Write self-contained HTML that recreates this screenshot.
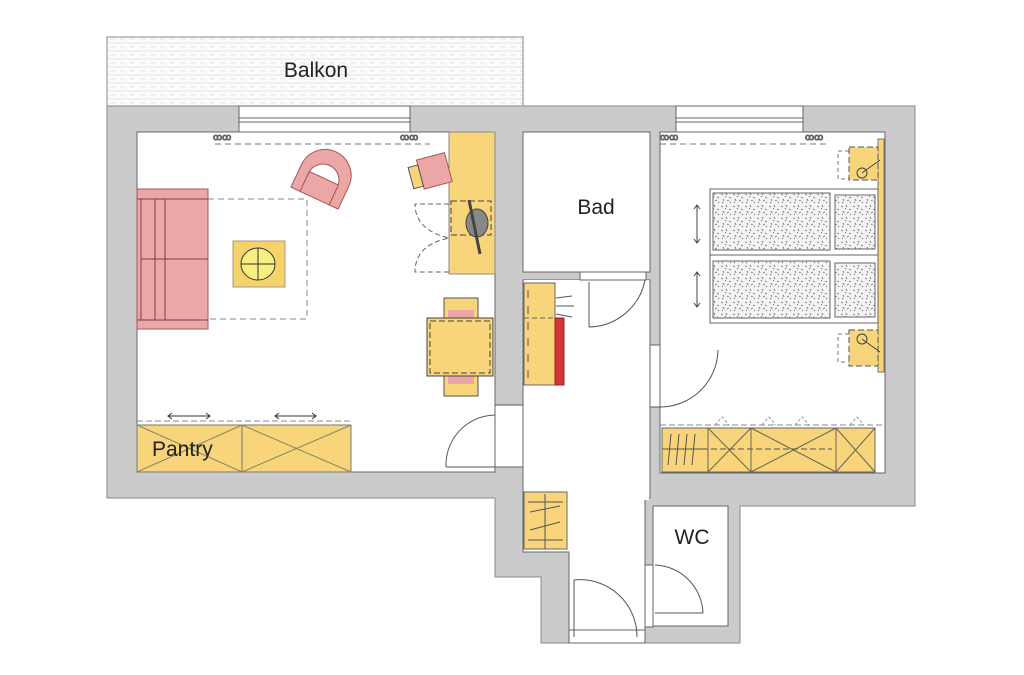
<!DOCTYPE html>
<html><head><meta charset="utf-8"><style>
html,body{margin:0;padding:0;background:#fff;}
svg{display:block;font-family:"Liberation Sans",sans-serif;}
</style></head><body>
<svg width="1024" height="675" viewBox="0 0 1024 675" xmlns="http://www.w3.org/2000/svg">
<defs>
<pattern id="hatch" width="10" height="8" patternUnits="userSpaceOnUse">
<rect width="10" height="8" fill="#fbfbfb"/>
<path d="M0 4 L2.5 2 L5 4 L7.5 2 L10 4 M0 8 L2.5 6 L5 8" stroke="#e2e2e2" fill="none" stroke-width="0.8"/>
</pattern>
<pattern id="speck" width="12" height="12" patternUnits="userSpaceOnUse">
<rect width="12" height="12" fill="#f4f4f4"/>
<path d="M1 2l2 1M6 1l1 2M9 5l2 1M3 7l1 2M7 9l2 -1M10 10l1 1M2 11l1 -1M5 4l1 1" stroke="#777" stroke-width="0.9"/>
</pattern>
</defs>
<rect x="107" y="37" width="416" height="69" fill="url(#hatch)" stroke="#888" stroke-width="1"/>
<text x="316" y="77" font-size="21" text-anchor="middle" fill="#222">Balkon</text>

<path d="M107 106 H915 V506 H740 V643 H541 V577 H495 V498 H107 Z" fill="#cbcbcb" stroke="#8a8a8a" stroke-width="1"/>

<rect x="137" y="132" width="358" height="340" fill="#fff" stroke="#666"/>
<rect x="523" y="132" width="127" height="140" fill="#fff" stroke="#666"/>
<rect x="660" y="132" width="225" height="341" fill="#fff" stroke="#666"/>
<path d="M523 280 H650 V498 H645 V643 H569 V552 H523 Z" fill="#fff" stroke="#666"/>
<rect x="524" y="280" width="125" height="220" fill="#fff"/>
<rect x="653" y="506" width="75" height="120" fill="#fff" stroke="#666"/>
<rect x="495" y="405" width="28" height="62" fill="#fff" stroke="#666"/>
<rect x="650" y="345" width="10" height="62" fill="#fff" stroke="#666"/>
<rect x="580" y="272" width="66" height="8" fill="#fff" stroke="#666"/>
<rect x="645" y="565" width="8" height="62" fill="#fff" stroke="#666"/>
<rect x="569" y="630" width="76" height="13" fill="#fff" stroke="#666"/>
<rect x="239" y="106" width="171" height="26" fill="#fff" stroke="#666"/>
<line x1="239" y1="118" x2="410" y2="118" stroke="#666"/><line x1="239" y1="122" x2="410" y2="122" stroke="#666"/>
<rect x="676" y="106" width="127" height="26" fill="#fff" stroke="#666"/>
<line x1="676" y1="118" x2="803" y2="118" stroke="#666"/><line x1="676" y1="122" x2="803" y2="122" stroke="#666"/>
<g stroke="#777" fill="none" stroke-dasharray="6 4">
<line x1="215" y1="144" x2="430" y2="144"/><line x1="660" y1="144" x2="830" y2="144"/>
</g>
<g fill="#fff" stroke="#666" font-size="9"><text x="213" y="140">ꝏꝏ</text><text x="400" y="140">ꝏꝏ</text><text x="660" y="140">ꝏꝏ</text><text x="805" y="140">ꝏꝏ</text></g>

<g fill="none" stroke="#555">
<path d="M523 405 H495 M446 467 H495 M446 467 A50 50 0 0 1 495 415"/>
<path d="M660 407 A58 58 0 0 0 718 350 M660 407 H652"/>
<path d="M589 327 V282 M589 327 A58 58 0 0 0 645 280"/>
<path d="M574 580 A57 57 0 0 1 637 637 M574 580 V637"/>
<path d="M655 565 A50 50 0 0 1 703 613 M655 613 H703"/>
</g>

<rect x="208" y="199" width="99" height="120" fill="none" stroke="#888" stroke-dasharray="6 4"/>
<rect x="137" y="189" width="71" height="140" fill="#eba7a5" stroke="#a55" stroke-width="1"/>
<line x1="141" y1="199" x2="141" y2="320" stroke="#744"/><line x1="155" y1="199" x2="155" y2="320" stroke="#744"/><line x1="165" y1="199" x2="165" y2="320" stroke="#744"/>
<line x1="137" y1="199" x2="208" y2="199" stroke="#744"/><line x1="137" y1="320" x2="208" y2="320" stroke="#744"/><line x1="141" y1="259" x2="208" y2="259" stroke="#744"/>
<rect x="233" y="241" width="52" height="46" fill="#f6d36a" stroke="#a98"/>
<ellipse cx="258" cy="264" rx="17" ry="16" fill="#f8ef80" stroke="#333"/>
<line x1="258" y1="248" x2="258" y2="280" stroke="#333"/><line x1="241" y1="264" x2="275" y2="264" stroke="#333"/>
<g transform="rotate(25 323 180)">
<path d="M297 200 V175 A26 26 0 0 1 349 175 V200 H339 V180 A16 16 0 0 0 307 180 V200 Z" fill="#eba7a5" stroke="#a55"/>
<rect x="307" y="178" width="32" height="22" fill="#eba7a5" stroke="#a55"/>
</g>
<rect x="449" y="132" width="46" height="142" fill="#f8d57a" stroke="#888"/>
<rect x="451" y="201" width="40" height="34" fill="none" stroke="#444" stroke-dasharray="6 3"/>
<ellipse cx="477" cy="223" rx="11" ry="14" fill="#888" stroke="#444"/>
<line x1="469" y1="200" x2="480" y2="254" stroke="#444" stroke-width="3"/>
<path d="M449 204 H415 Q415 230 449 238 Q415 245 415 272 H449" fill="none" stroke="#666" stroke-dasharray="5 3"/>
<g transform="rotate(-15 430 172)">
<rect x="420" y="157" width="29" height="30" fill="#eba7a5" stroke="#a55"/>
<rect x="410" y="162" width="10" height="22" fill="#f8d57a" stroke="#555"/>
</g>
<rect x="444" y="298" width="34" height="20" fill="#f8d57a" stroke="#555"/>
<rect x="448" y="310" width="26" height="12" fill="#eba7a5"/>
<rect x="444" y="374" width="34" height="22" fill="#f8d57a" stroke="#555"/>
<rect x="448" y="372" width="26" height="12" fill="#eba7a5"/>
<rect x="427" y="318" width="66" height="58" fill="#f8d57a" stroke="#444"/>
<rect x="430" y="321" width="60" height="52" fill="none" stroke="#444" stroke-dasharray="6 3"/>
<line x1="137" y1="421" x2="350" y2="421" stroke="#888" stroke-dasharray="6 3"/>
<rect x="137" y="425" width="105" height="47" fill="#f8d57a" stroke="#777"/>
<rect x="242" y="425" width="109" height="47" fill="#f8d57a" stroke="#777"/>
<path d="M137 425 L242 472 M137 472 L242 425 M242 425 L351 472 M242 472 L351 425" stroke="#886" fill="none"/>
<path d="M168 416 H210 M275 416 H316" stroke="#333"/>
<path d="M172 413 L168 416 L172 419 M206 413 L210 416 L206 419 M279 413 L275 416 L279 419 M312 413 L316 416 L312 419" stroke="#333" fill="none"/>
<text x="152" y="456" font-size="21" fill="#222">Pantry</text>

<rect x="524" y="283" width="31" height="102" fill="#f8d57a" stroke="#666"/>
<rect x="555" y="318" width="9" height="67" fill="#d2363a" stroke="#922"/>
<line x1="524" y1="318" x2="555" y2="318" stroke="#666" stroke-dasharray="5 3"/>
<line x1="528" y1="290" x2="528" y2="380" stroke="#555" stroke-dasharray="8 8"/>
<line x1="556" y1="298" x2="572" y2="296" stroke="#555"/><line x1="556" y1="306" x2="574" y2="306" stroke="#555"/><line x1="556" y1="314" x2="572" y2="317" stroke="#555"/>
<rect x="524" y="492" width="43" height="57" fill="#f8d57a" stroke="#666"/>
<line x1="545" y1="494" x2="545" y2="549" stroke="#555"/>
<path d="M530 512 L560 506 M530 530 L560 522" stroke="#555"/>
<line x1="528" y1="502" x2="563" y2="502" stroke="#555"/><line x1="528" y1="540" x2="563" y2="540" stroke="#555"/>
<text x="596" y="214" font-size="21" text-anchor="middle" fill="#222">Bad</text>
<text x="692" y="544" font-size="21" text-anchor="middle" fill="#222">WC</text>

<rect x="878" y="139" width="6" height="233" fill="#f8d57a" stroke="#777"/>
<rect x="710" y="189" width="168" height="134" fill="#fff" stroke="#666"/>
<line x1="710" y1="255" x2="878" y2="255" stroke="#666"/>
<rect x="713" y="193" width="117" height="57" fill="url(#speck)" stroke="#666"/>
<rect x="835" y="195" width="40" height="54" fill="url(#speck)" stroke="#666"/>
<rect x="713" y="261" width="117" height="57" fill="url(#speck)" stroke="#666"/>
<rect x="835" y="263" width="40" height="54" fill="url(#speck)" stroke="#666"/>
<path d="M697 205 V243 M694 209 L697 205 L700 209 M694 239 L697 243 L700 239 M697 272 V307 M694 276 L697 272 L700 276 M694 303 L697 307 L700 303" stroke="#444" fill="none"/>
<rect x="838" y="151" width="14" height="28" fill="none" stroke="#777" stroke-dasharray="4 3"/>
<rect x="849" y="147" width="29" height="33" fill="#f8d57a" stroke="#555" stroke-dasharray="6 3"/>
<circle cx="862" cy="173" r="5" fill="none" stroke="#444"/><line x1="862" y1="173" x2="880" y2="160" stroke="#444"/>
<rect x="838" y="334" width="14" height="28" fill="none" stroke="#777" stroke-dasharray="4 3"/>
<rect x="849" y="330" width="29" height="36" fill="#f8d57a" stroke="#555" stroke-dasharray="6 3"/>
<circle cx="862" cy="339" r="5" fill="none" stroke="#444"/><line x1="862" y1="339" x2="880" y2="352" stroke="#444"/>
<line x1="660" y1="425" x2="885" y2="425" stroke="#888" stroke-dasharray="6 3"/>
<rect x="662" y="428" width="46" height="44" fill="#f8d57a" stroke="#666"/>
<rect x="708" y="428" width="43" height="44" fill="#f8d57a" stroke="#666"/>
<rect x="751" y="428" width="85" height="44" fill="#f8d57a" stroke="#666"/>
<rect x="836" y="428" width="39" height="44" fill="#f8d57a" stroke="#666"/>
<path d="M708 428 L751 472 M708 472 L751 428 M751 428 L836 472 M751 472 L836 428 M836 428 L875 472 M836 472 L875 428" stroke="#665" fill="none"/>
<line x1="662" y1="449" x2="708" y2="449" stroke="#555"/>
<line x1="711" y1="449" x2="832" y2="449" stroke="#555" stroke-dasharray="6 3"/>
<path d="M668 465 L671 434 M676 465 L679 434 M684 465 L687 434 M692 465 L695 434" stroke="#555"/>
<path d="M715 425 L722 417 L729 425 M795 425 L802 417 L809 425 M850 425 L857 417 L864 425 M762 425 L769 417 L776 425" stroke="#999" fill="none" stroke-dasharray="3 2"/>
</svg>
</body></html>
